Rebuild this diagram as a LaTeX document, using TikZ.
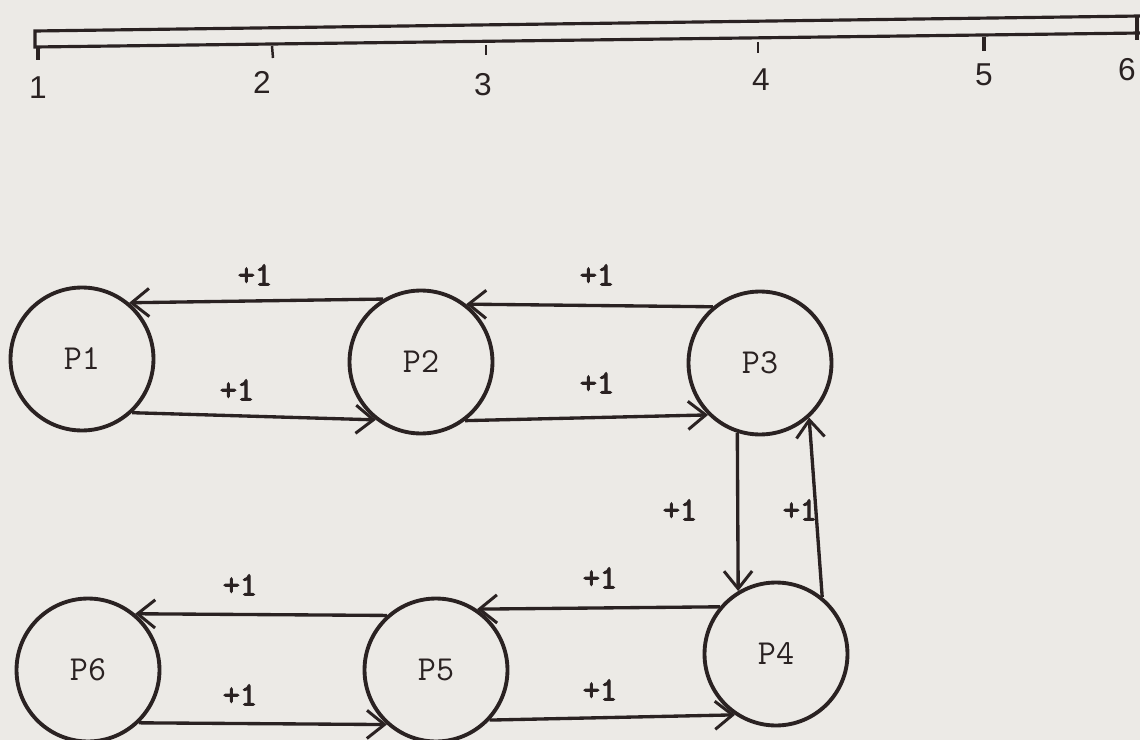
\documentclass[tikz,border=0pt]{standalone}
\usepackage{fontspec}
\setmonofont{Latin Modern Mono}[AutoFakeBold=3]
\setsansfont{Liberation Sans}
\usetikzlibrary{arrows.meta}
\definecolor{paper}{HTML}{ECEAE6}
\definecolor{ink}{HTML}{2A2222}
\tikzset{
  proc/.style={circle, draw=ink, line width=2.2pt, minimum size=2.86cm, inner sep=0pt,
               font=\ttfamily\fontsize{20}{20}\selectfont, text=ink},
  flow/.style={draw=ink, line width=1.9pt, -{Straight Barb[length=10pt,width=16pt,line width=1.7pt]}},
  inc/.style={font=\ttfamily\bfseries\fontsize{19}{19}\selectfont, text=ink, inner sep=0pt},
  rulerline/.style={draw=ink, line width=1.8pt},
  tickmark/.style={draw=ink, line width=1.4pt},
  ticklabel/.style={font=\sffamily\fontsize{18}{18}\selectfont, text=ink, inner sep=0pt}
}
\begin{document}
\begin{tikzpicture}[x=0.02cm, y=-0.02cm]
  % page
  \fill[paper] (0,0) rectangle (1140,740);
  \useasboundingbox (0,0) rectangle (1140,740);

  % scale bar with numbered ticks
  \draw[rulerline] (1140,16) -- (35,31) -- (35,47) -- (1140,33);
  \draw[tickmark, line width=2pt] (38,48) -- (38,60);
  \draw[tickmark] (272,46) -- (273,58);
  \draw[tickmark] (486,45) -- (486,55);
  \draw[tickmark] (758,42) -- (758,53);
  \draw[tickmark, line width=1.8pt] (984,37) -- (984,51);
  \draw[tickmark, line width=1.8pt] (1137,17) -- (1137,40);
  \node[ticklabel] (t1) at (38,88) {1};
  \node[ticklabel] (t2) at (262,82) {2};
  \node[ticklabel] (t3) at (483,85) {3};
  \node[ticklabel] (t4) at (761,80) {4};
  \node[ticklabel] (t5) at (984,75) {5};
  \node[ticklabel] (t6) at (1127,70) {6};

  % processes
  \node[proc] (P1) at (82,359) {P1};
  \node[proc] (P2) at (421,362) {P2};
  \node[proc] (P3) at (760,363) {P3};
  \node[proc] (P4) at (776,654) {P4};
  \node[proc] (P5) at (436,670) {P5};
  \node[proc] (P6) at (88,670) {P6};

  % transfers between neighbours
  \draw[flow] (P2.121) -- (P1.50);
  \draw[flow] (P1.-47) -- (P2.232);
  \draw[flow] (P3.130) -- (P2.52);
  \draw[flow] (P2.-53) -- (P3.225);
  \draw[flow] (P3.252) -- (P4.121);
  \draw[flow] (P4.51) -- (P3.-48);
  \draw[flow] (P4.140) -- (P5.56);
  \draw[flow] (P5.-43) -- (P4.236);
  \draw[flow] (P5.132) -- (P6.50);
  \draw[flow] (P6.-46) -- (P5.228);

  % increments
  \node[inc] (l21) at (255,275) {+1};
  \node[inc] (l12) at (237,390) {+1};
  \node[inc] (l32) at (597,275) {+1};
  \node[inc] (l23) at (597,383) {+1};
  \node[inc] (l34) at (680,510) {+1};
  \node[inc] (l43) at (800,510) {+1};
  \node[inc] (l45) at (600,578) {+1};
  \node[inc] (l54) at (600,690) {+1};
  \node[inc] (l56) at (240,585) {+1};
  \node[inc] (l65) at (240,695) {+1};
\end{tikzpicture}
\end{document}
